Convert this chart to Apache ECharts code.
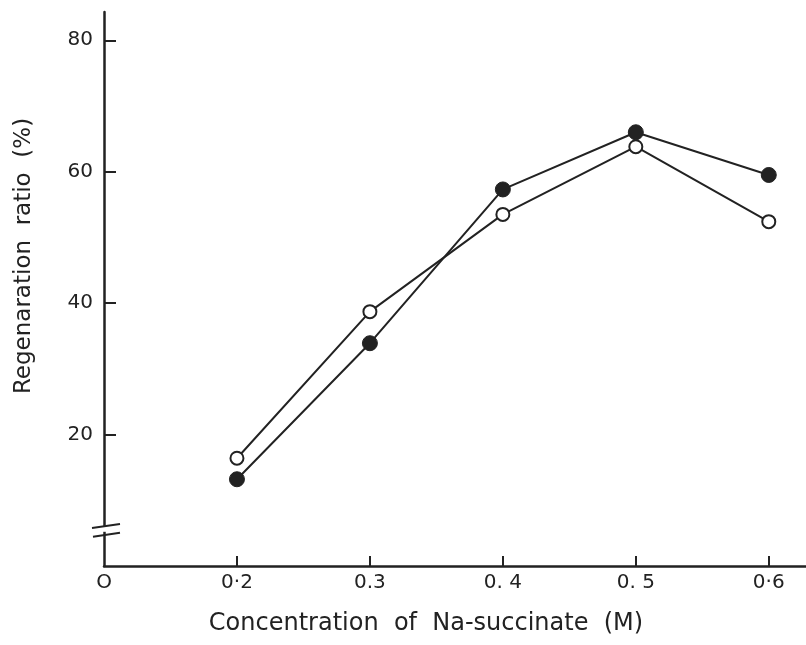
<!DOCTYPE html>
<html><head><meta charset="utf-8">
<script src="https://cdn.jsdelivr.net/npm/echarts@6/dist/echarts.min.js"></script>
<style>html,body{margin:0;padding:0;background:#fff}#c{width:806px;height:645px}</style>
</head><body><div id="c"></div>
<script>
var concentrations = [0.2, 0.3, 0.4, 0.5, 0.6];
var filledSeries = [13.2, 33.9, 57.3, 66.0, 59.5];
var openSeries = [16.4, 38.7, 53.5, 63.8, 52.4];
var xTickValues = [0.2, 0.3, 0.4, 0.5, 0.6];
var xLabelValues = [0.1, 0.2, 0.3, 0.4, 0.5, 0.6];
var xTickLabels = {"0.1": "O", "0.2": "0·2", "0.3": "0.3", "0.4": "0. 4", "0.5": "0. 5", "0.6": "0·6"};
var yTickValues = [20, 40, 60, 80];
var breakLow = 4.9, breakHigh = 6.4;

var ink = '#222';
var font = 'DejaVu Sans';
var chart = echarts.init(document.getElementById('c'));
function pairs(vals){ return concentrations.map(function(c,i){ return [c, vals[i]]; }); }
chart.setOption({
  animation: false,
  backgroundColor: '#fff',
  grid: {left: 104, right: 0, top: 12, bottom: 79, containLabel: false},
  xAxis: {
    type: 'value', min: 0.1, max: 0.628,
    axisLine: {lineStyle: {color: ink, width: 2.5}},
    axisTick: {inside: true, length: 10, customValues: xTickValues, lineStyle: {color: ink, width: 2}},
    splitLine: {show: false},
    axisLabel: {margin: 7, color: ink, fontSize: 20, fontFamily: font, customValues: xLabelValues,
      formatter: function(v){ var k = (Math.round(v*10)/10).toFixed(1); return xTickLabels[k] || ''; }},
    name: 'Concentration  of  Na-succinate  (M)', nameLocation: 'middle', nameGap: 46, nameMoveOverlap: false,
    nameTextStyle: {color: ink, fontSize: 24, fontFamily: font, padding: [0,0,0,-58]}
  },
  yAxis: {
    type: 'value', min: 0, max: 84.3,
    axisLine: {lineStyle: {color: ink, width: 2.5}},
    axisTick: {inside: true, length: 12, customValues: yTickValues, lineStyle: {color: ink, width: 2}},
    splitLine: {show: false},
    axisLabel: {margin: 11, color: ink, fontSize: 20, fontFamily: font, customValues: yTickValues,
      formatter: function(v){ return String(v); }},
    name: 'Regenaration  ratio  (%)', nameLocation: 'middle', nameGap: 68, nameRotate: 90,
    nameTextStyle: {color: ink, fontSize: 23, fontFamily: font, padding: [0,0,0,66]}
  },
  series: [
    {type: 'line', data: pairs(openSeries), symbol: 'circle', symbolSize: 13, z: 3,
     lineStyle: {color: ink, width: 2}, itemStyle: {color: '#fff', borderColor: ink, borderWidth: 2}},
    {type: 'line', data: pairs(filledSeries), symbol: 'circle', symbolSize: 15, z: 4,
     lineStyle: {color: ink, width: 2}, itemStyle: {color: ink, borderColor: ink, borderWidth: 1}}
  ]
});
var pLow = chart.convertToPixel({gridIndex: 0}, [0.1, breakLow]);
var pHigh = chart.convertToPixel({gridIndex: 0}, [0.1, breakHigh]);
var ax = pLow[0];
chart.setOption({graphic: [
  {type: 'rect', shape: {x: ax - 4, y: pHigh[1] + 2, width: 8, height: pLow[1] - pHigh[1] - 4}, style: {fill: '#fff'}, z: 100},
  {type: 'line', shape: {x1: ax - 12, y1: pHigh[1] + 4, x2: ax + 16, y2: pHigh[1]}, style: {stroke: ink, lineWidth: 2}, z: 101},
  {type: 'line', shape: {x1: ax - 11, y1: pLow[1] + 3, x2: ax + 16, y2: pLow[1] - 1}, style: {stroke: ink, lineWidth: 2}, z: 101}
]});
</script></body></html>
